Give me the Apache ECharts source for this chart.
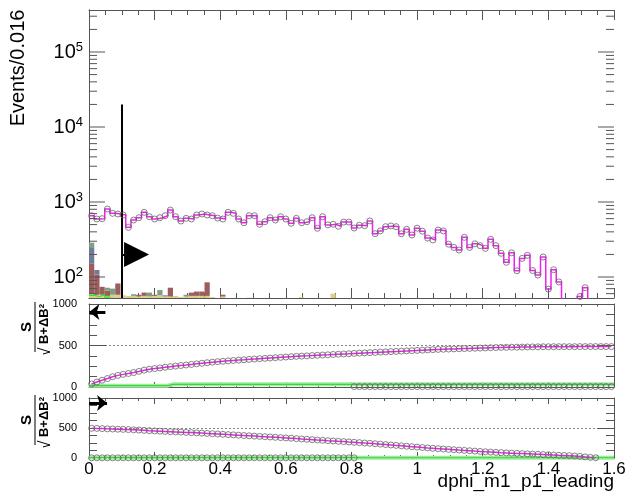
<!DOCTYPE html>
<html><head><meta charset="utf-8">
<script src="https://cdn.jsdelivr.net/npm/echarts@6/dist/echarts.min.js"></script>
<style>html,body{margin:0;padding:0;background:#fff}#c{width:629px;height:497px}</style>
</head><body><div id="c"></div>
<script>
// ---------------- data ----------------
const xMin = 0, xMax = 1.6, binWidth = 0.016, nBins = 100;
const yTopMin = 52.5, yTopMax = 363000;
const xTickLabels = ['0','0.2','0.4','0.6','0.8','1','1.2','1.4','1.6'];

// Events per bin (magenta histogram with markers)
const signalTop = [
 657,593,600,807,706,692,671,459,575,618,
 728,637,593,618,657,782,637,558,606,593,
 671,692,671,657,610,593,728,706,593,529,
 657,657,504,546,618,575,637,593,520,606,
 529,546,618,446,637,495,505,475,540,540,
 450,490,483,560,378,412,469,479,469,377,
 432,363,448,408,331,312,423,412,274,248,
 229,338,248,277,262,241,318,262,207,157,
 210,121,177,195,122,106,185,69,125,86,
 38,30,42,55,72,0,0,0,0,0
];
// stacked backgrounds (bottom -> top)
const bkgKhaki = [
 60,58,58,56,58,58,57,56,56,55,
 56,55,56,57,55,55,56,54,55,56,
 56,56,56,54,0,55,0,0,0,0,
 53,0,0,0,0,0,0,0,0,0,
 54,0,0,0,0,0,60,0,0,0,
 0,0,0,0,0,0,0,0,0,0,
 0,0,0,0,0,0,0,0,0,0,
 0,0,0,0,0,0,0,0,0,0,
 0,0,0,0,0,0,0,0,0,0,
 0,0,0,0,0,0,0,0,0,0
];
const bkgBrown = [
 90,50,16,10,0,24,0,0,0,3,
 6,0,2,0,0,17,0,0,0,6,
 8,8,29,0,0,3,0,0,0,0,
 0,0,0,0,0,0,0,0,0,0,
 0,0,0,0,0,0,0,0,0,0,
 0,0,0,0,0,0,0,0,0,0,
 0,0,0,0,0,0,0,0,0,0,
 0,0,0,0,0,0,0,0,0,0,
 0,0,0,0,0,0,0,0,0,0,
 0,0,0,0,0,0,0,0,0,0
];
const bkgSlate = [
 100,16,0,0,0,0,0,0,0,0,
 0,0,0,0,2,0,0,0,0,0,
 0,0,0,0,0,0,0,0,0,0,
 0,0,0,0,0,0,0,0,0,0,
 0,0,0,0,0,0,0,0,0,0,
 0,0,0,0,0,0,0,0,0,0,
 0,0,0,0,0,0,0,0,0,0,
 0,0,0,0,0,0,0,0,0,0,
 0,0,0,0,0,0,0,0,0,0,
 0,0,0,0,0,0,0,0,0,0
];
const bkgSage = [
 37,0,0,6,12,0,0,0,3,0,
 0,7,0,10,0,0,0,0,3,0,
 0,0,0,0,0,0,0,0,0,0,
 0,0,0,0,0,0,0,0,0,0,
 0,0,0,0,0,0,0,0,0,0,
 0,0,0,0,0,0,0,0,0,0,
 0,0,0,0,0,0,0,0,0,0,
 0,0,0,0,0,0,0,0,0,0,
 0,0,0,0,0,0,0,0,0,0,
 0,0,0,0,0,0,0,0,0,0
];
const greenTop = [
 57,55,58,54,0,0,0,0,0,0,
 0,0,0,0,0,0,0,0,0,0,
 0,0,0,0,0,0,0,0,0,0,
 0,0,0,0,0,0,0,0,0,0,
 0,0,0,0,0,0,0,0,0,0,
 0,0,0,0,0,0,0,0,0,0,
 0,0,0,0,0,0,0,0,0,0,
 0,0,0,0,0,0,0,0,0,0,
 0,0,0,0,0,0,0,0,0,0,
 0,0,0,0,0,0,0,0,0,0
];
// significance, cut from the left
const signifLeft = [
 36,60,82,102,124,140,152,163,174,188,
 203,215,222,230,238,245,252,259,265,272,
 279,286,293,299,305,310,315,320,324,328,
 333,337,341,345,349,353,357,361,365,369,
 372,375,379,382,385,388,392,395,398,401,
 405,408,411,414,417,420,423,426,429,432,
 435,438,441,444,447,450,453,455,457,459,
 461,463,465,467,469,471,473,475,477,478,
 479,480,481,482,483,484,485,485,486,486,
 486,486,486,487,487,487,487,487,487,487
];
const greenLeft = [
 16,16,16,16,16,16,16,16,16,16,
 16,16,16,16,16,32,32,32,32,32,
 32,32,32,32,32,32,32,32,32,32,
 32,32,32,32,32,32,32,32,32,32,
 32,32,32,32,32,32,32,32,32,32,
 32,32,32,32,32,32,32,32,32,32,
 32,32,32,32,32,32,32,32,32,32,
 32,32,32,32,32,32,32,32,32,32,
 32,32,32,32,32,32,32,32,32,32,
 32,32,32,32,32,32,32,32,32,32
];
const lowLeft = [
 null,null,null,null,null,null,null,null,null,null,
 null,null,null,null,null,null,null,null,null,null,
 null,null,null,null,null,null,null,null,null,null,
 null,null,null,null,null,null,null,null,null,null,
 null,null,null,null,null,null,null,null,null,null,
 5,5,5,5,5,5,5,5,5,5,
 5,5,5,5,5,5,5,5,5,5,
 5,5,5,5,5,5,5,5,5,5,
 5,5,5,5,5,5,5,5,5,5,
 5,5,5,5,5,5,5,5,5,5
];
// significance, cut from the right
const signifRight = [
 495,493,490,486,483,480,477,474,470,466,
 461,455,451,447,443,439,435,431,427,423,
 419,415,410,405,400,395,390,385,380,375,
 370,365,360,355,350,345,340,335,330,323,
 317,312,306,300,295,289,284,278,273,267,
 262,256,250,245,238,231,224,217,210,203,
 196,189,182,175,168,162,156,150,144,138,
 132,127,121,115,110,104,99,94,89,85,
 81,77,73,69,65,61,57,53,49,45,
 42,39,33,27,18,10,4,null,null,null
];
const greenRight = [
 6,6,6,6,6,6,6,6,6,6,
 6,6,6,6,6,6,6,6,6,6,
 6,6,6,6,6,6,6,6,6,6,
 6,6,6,6,6,6,6,6,6,6,
 6,6,6,6,6,6,6,6,6,6,
 6,3,3,3,3,3,3,3,3,3,
 3,3,3,3,3,3,3,3,3,3,
 3,3,3,3,3,3,3,3,3,3,
 3,3,3,3,3,3,3,3,3,3,
 3,3,3,3,3,3,3,3,3,3
];
const lowRight = [
 3,3,3,3,3,3,3,3,3,3,
 3,3,3,3,3,3,3,3,3,3,
 3,3,3,3,3,3,3,3,3,3,
 3,3,3,3,3,3,3,3,3,3,
 3,3,3,3,3,3,3,3,3,3,
 3,null,null,null,null,null,null,null,null,null,
 null,null,null,null,null,null,null,null,null,null,
 null,null,null,null,null,null,null,null,null,null,
 null,null,null,null,null,null,null,null,null,null,
 null,null,null,null,null,null,null,null,null,null
];
// annotation positions (data coordinates)
const cutX = 0.1, cutLineTop = 20000, cutArrowY = 200;

// ---------------- helpers ----------------
const FONT = '"Liberation Sans", Arial, Helvetica, sans-serif';
const edge = i => xMin + i * binWidth;
const center = i => xMin + (i + 0.5) * binWidth;
function stepData(arr, floor) {
  const d = [];
  for (let i = 0; i < arr.length; i++) {
    let v = arr[i];
    if (v === null) { d.push([edge(i), null]); continue; }
    if (floor !== undefined && v <= 0) v = floor;
    d.push([edge(i), v]);
  }
  const last = arr[arr.length - 1];
  d.push([edge(arr.length), last === null ? null : (floor !== undefined && last <= 0 ? floor : last)]);
  return d;
}
function pointData(arr, positiveOnly) {
  const d = [];
  arr.forEach((v, i) => { if (v !== null && (!positiveOnly || v > 0)) d.push([center(i), v]); });
  return d;
}
function lineData(arr) {
  return arr.map((v, i) => [center(i), v]);
}
const layers = [
  { vals: bkgKhaki, color: '#d8cf8c' },
  { vals: bkgBrown, color: '#9d5d5d' },
  { vals: bkgSlate, color: '#6f7c98' },
  { vals: bkgSage,  color: '#7f9f84' }
];
const barData = [];
for (let i = 0; i < nBins; i++) {
  let tot = 0; layers.forEach(l => tot += l.vals[i]);
  if (tot > 0) barData.push([center(i), tot, i]);
}
// log ticks (decoration)
const logTicks = [];
for (let e = 1; e <= 5; e++) {
  for (let m = 1; m <= 9; m++) {
    const v = m * Math.pow(10, e);
    if (v >= yTopMin && v <= yTopMax) logTicks.push([0, v, m === 1 ? 1 : 0]);
  }
}

const AX = '#555';
function xAxisDef(grid, pos, labels, tickLen) {
  return {
    type: 'value', gridIndex: grid, position: pos, min: xMin, max: xMax, interval: 0.2,
    axisLine: { show: true, onZero: false, lineStyle: { color: AX, width: 1 } },
    axisTick: { show: true, inside: true, length: tickLen, lineStyle: { color: AX } },
    minorTick: { show: true, splitNumber: 4, length: tickLen / 2, lineStyle: { color: AX } },
    splitLine: { show: false },
    axisLabel: labels ? {
      show: true, fontFamily: FONT, fontSize: 17, color: '#000', margin: 3,
      formatter: v => xTickLabels[Math.round(v / 0.2)] || ''
    } : { show: false }
  };
}
function yLinDef(grid, pos, labels) {
  return {
    type: 'value', gridIndex: grid, position: pos, min: 0, max: 1000, interval: 500,
    axisLine: { show: true, onZero: false, lineStyle: { color: AX } },
    axisTick: { show: true, inside: true, length: 17, lineStyle: { color: AX } },
    minorTick: { show: true, splitNumber: 4, length: 8, lineStyle: { color: AX } },
    splitLine: { show: pos === 'left', lineStyle: { color: '#888', type: [2, 2], width: 1 } },
    axisLabel: labels ? { show: true, fontFamily: FONT, fontSize: 11, color: '#000', margin: 12,
      formatter: v => String(v) } : { show: false }
  };
}
function yLogDef(pos, labels) {
  return {
    type: 'log', logBase: 10, gridIndex: 0, position: pos, min: yTopMin, max: yTopMax,
    axisLine: { show: true, lineStyle: { color: AX } },
    axisTick: { show: false },
    splitLine: { show: false },
    axisLabel: labels ? {
      show: true, showMinLabel: false, showMaxLabel: false, margin: 6,
      formatter: v => {
        const l = Math.log10(v), e = Math.round(l);
        if (Math.abs(l - e) > 1e-6) return '';
        return '{b|10}{s|' + e + '}';
      },
      rich: {
        b: { fontFamily: FONT, fontSize: 20, color: '#000' },
        s: { fontFamily: FONT, fontSize: 13, color: '#000', verticalAlign: 'top', padding: [0, 0, 10, 0] }
      }
    } : { show: false }
  };
}

const option = {
  animation: false,
  backgroundColor: '#fff',
  grid: [
    { left: 89, right: 15, top: 10, height: 288 },
    { left: 89, right: 15, top: 304, height: 83 },
    { left: 89, right: 15, top: 398, height: 60 }
  ],
  xAxis: [
    xAxisDef(0, 'bottom', false, 10), xAxisDef(0, 'top', false, 10),
    xAxisDef(1, 'bottom', false, 5), xAxisDef(1, 'top', false, 5),
    xAxisDef(2, 'bottom', true, 6), xAxisDef(2, 'top', false, 6)
  ],
  yAxis: [
    yLogDef('left', true), yLogDef('right', false),
    yLinDef(1, 'left', true), yLinDef(1, 'right', false),
    yLinDef(2, 'left', true), yLinDef(2, 'right', false)
  ],
  graphic: [
    { type: 'text', x: 18, y: 68, rotation: Math.PI / 2,
      style: { text: 'Events/0.016', font: '20px ' + FONT, fill: '#000', align: 'center', verticalAlign: 'middle' } },
    ...[327, 420].map(cy => ({
      type: 'group', x: 37, y: cy, rotation: Math.PI / 2,
      children: [
        { type: 'text', x: 0, y: -10, style: { text: 'S', font: 'bold 15px ' + FONT, fill: '#000', align: 'center', verticalAlign: 'middle' } },
        { type: 'line', shape: { x1: -25, y1: -2, x2: 25, y2: -2 }, style: { stroke: '#000', lineWidth: 1 } },
        { type: 'text', x: 3, y: 7, style: { text: 'B+ΔB²', font: 'bold 13px ' + FONT, fill: '#000', align: 'center', verticalAlign: 'middle' } },
        { type: 'polyline', shape: { points: [[-27, 6], [-25, 13], [-21, 0]] }, style: { stroke: '#000', lineWidth: 1, fill: null } }
      ]
    })),
    { type: 'text', right: 15, top: 472,
      style: { text: 'dphi_m1_p1_leading', font: '19px ' + FONT, fill: '#000' } }
  ],
  series: [
    // stacked backgrounds
    {
      type: 'custom', xAxisIndex: 0, yAxisIndex: 0, data: barData, encode: { x: 0, y: 1 }, z: 2,
      renderItem: (params, api) => {
        const i = api.value(2);
        const xl = api.coord([edge(i), yTopMin])[0];
        const xr = api.coord([edge(i + 1), yTopMin])[0];
        const children = [];
        let cum = 0;
        layers.forEach(l => {
          const v = l.vals[i];
          if (v <= 0) return;
          const lo = Math.max(cum, yTopMin), hi = cum + v;
          cum = hi;
          if (hi <= yTopMin) return;
          const yl = api.coord([0, lo])[1], yh = api.coord([0, hi])[1];
          children.push({ type: 'rect', shape: { x: xl, y: yh, width: xr - xl, height: yl - yh }, style: { fill: l.color } });
        });
        return { type: 'group', children };
      }
    },
    // green signal outline
    { type: 'line', xAxisIndex: 0, yAxisIndex: 0, step: 'end', showSymbol: false, z: 3,
      data: stepData(greenTop, 1), lineStyle: { color: '#22ee22', width: 1.2 } },
    // magenta histogram
    { type: 'line', xAxisIndex: 0, yAxisIndex: 0, step: 'end', showSymbol: false, z: 4,
      data: stepData(signalTop, 1), lineStyle: { color: '#ee22ee', width: 1.5 } },
    { type: 'scatter', xAxisIndex: 0, yAxisIndex: 0, z: 5, symbol: 'circle', symbolSize: 6,
      data: pointData(signalTop, true),
      itemStyle: { color: 'rgba(0,0,0,0)', borderColor: '#666', borderWidth: 1 } },
    // log ticks
    {
      type: 'custom', xAxisIndex: 0, yAxisIndex: 0, data: logTicks, encode: { x: 0, y: 1 }, z: 6, clip: false,
      renderItem: (params, api) => {
        const cs = params.coordSys;
        const y = api.coord([0.5, api.value(1)])[1];
        const len = api.value(2) ? 16 : 8;
        return { type: 'group', children: [
          { type: 'line', shape: { x1: cs.x, y1: y, x2: cs.x + len, y2: y }, style: { stroke: AX, lineWidth: 1 } },
          { type: 'line', shape: { x1: cs.x + cs.width - len, y1: y, x2: cs.x + cs.width, y2: y }, style: { stroke: AX, lineWidth: 1 } }
        ] };
      }
    },
    // cut annotation in top pad
    { type: 'line', xAxisIndex: 0, yAxisIndex: 0, data: [], z: 7,
      markLine: { silent: true, symbol: ['none', 'none'], label: { show: false },
        lineStyle: { color: '#000', width: 2, type: 'solid' },
        data: [
          [{ coord: [cutX, yTopMin] }, { coord: [cutX, cutLineTop] }],
          [{ coord: [cutX, cutArrowY] }, { coord: [cutX + 0.012, cutArrowY] }]
        ] },
      markPoint: { silent: true, label: { show: false },
        data: [{ coord: [cutX + 0.045, cutArrowY], symbol: 'triangle', symbolSize: [25, 25], symbolRotate: -90, itemStyle: { color: '#000' } }] }
    },
    // middle pad
    { type: 'line', xAxisIndex: 2, yAxisIndex: 2, step: 'end', showSymbol: false, z: 3,
      data: stepData(greenLeft), lineStyle: { color: '#99ee99', width: 4 } },
    { type: 'line', xAxisIndex: 2, yAxisIndex: 2, step: 'end', showSymbol: false, z: 3,
      data: stepData(greenLeft), lineStyle: { color: '#33cc33', width: 1 } },
    { type: 'scatter', xAxisIndex: 2, yAxisIndex: 2, z: 4, symbol: 'circle', symbolSize: 6,
      data: pointData(lowLeft), itemStyle: { color: 'rgba(0,0,0,0)', borderColor: '#666', borderWidth: 1 } },
    { type: 'line', xAxisIndex: 2, yAxisIndex: 2, showSymbol: false, z: 4,
      data: lineData(signifLeft), lineStyle: { color: '#ee22ee', width: 1.5 } },
    { type: 'scatter', xAxisIndex: 2, yAxisIndex: 2, z: 5, symbol: 'circle', symbolSize: 6,
      data: pointData(signifLeft), itemStyle: { color: 'rgba(0,0,0,0)', borderColor: '#666', borderWidth: 1 } },
    { type: 'line', xAxisIndex: 2, yAxisIndex: 2, data: [], z: 7,
      markLine: { silent: true, symbol: ['none', 'arrow'], symbolSize: [12, 10], label: { show: false },
        lineStyle: { color: '#000', width: 3, type: 'solid' },
        data: [[{ coord: [0.05, 905] }, { coord: [0.001, 905] }]] } },
    // bottom pad
    { type: 'line', xAxisIndex: 4, yAxisIndex: 4, step: 'end', showSymbol: false, z: 3,
      data: stepData(greenRight), lineStyle: { color: '#99ee99', width: 4 } },
    { type: 'line', xAxisIndex: 4, yAxisIndex: 4, step: 'end', showSymbol: false, z: 3,
      data: stepData(greenRight), lineStyle: { color: '#33cc33', width: 1 } },
    { type: 'scatter', xAxisIndex: 4, yAxisIndex: 4, z: 4, symbol: 'circle', symbolSize: 6,
      data: pointData(lowRight), itemStyle: { color: 'rgba(0,0,0,0)', borderColor: '#666', borderWidth: 1 } },
    { type: 'line', xAxisIndex: 4, yAxisIndex: 4, showSymbol: false, z: 4,
      data: lineData(signifRight), lineStyle: { color: '#ee22ee', width: 1.5 } },
    { type: 'scatter', xAxisIndex: 4, yAxisIndex: 4, z: 5, symbol: 'circle', symbolSize: 6,
      data: pointData(signifRight), itemStyle: { color: 'rgba(0,0,0,0)', borderColor: '#666', borderWidth: 1 } },
    { type: 'line', xAxisIndex: 4, yAxisIndex: 4, data: [], z: 7,
      markLine: { silent: true, symbol: ['none', 'arrow'], symbolSize: [12, 10], label: { show: false },
        lineStyle: { color: '#000', width: 3, type: 'solid' },
        data: [[{ coord: [0.0, 915] }, { coord: [0.055, 915] }]] } }
  ]
};
const chart = echarts.init(document.getElementById('c'), null, { renderer: 'canvas' });
chart.setOption(option);
</script></body></html>
